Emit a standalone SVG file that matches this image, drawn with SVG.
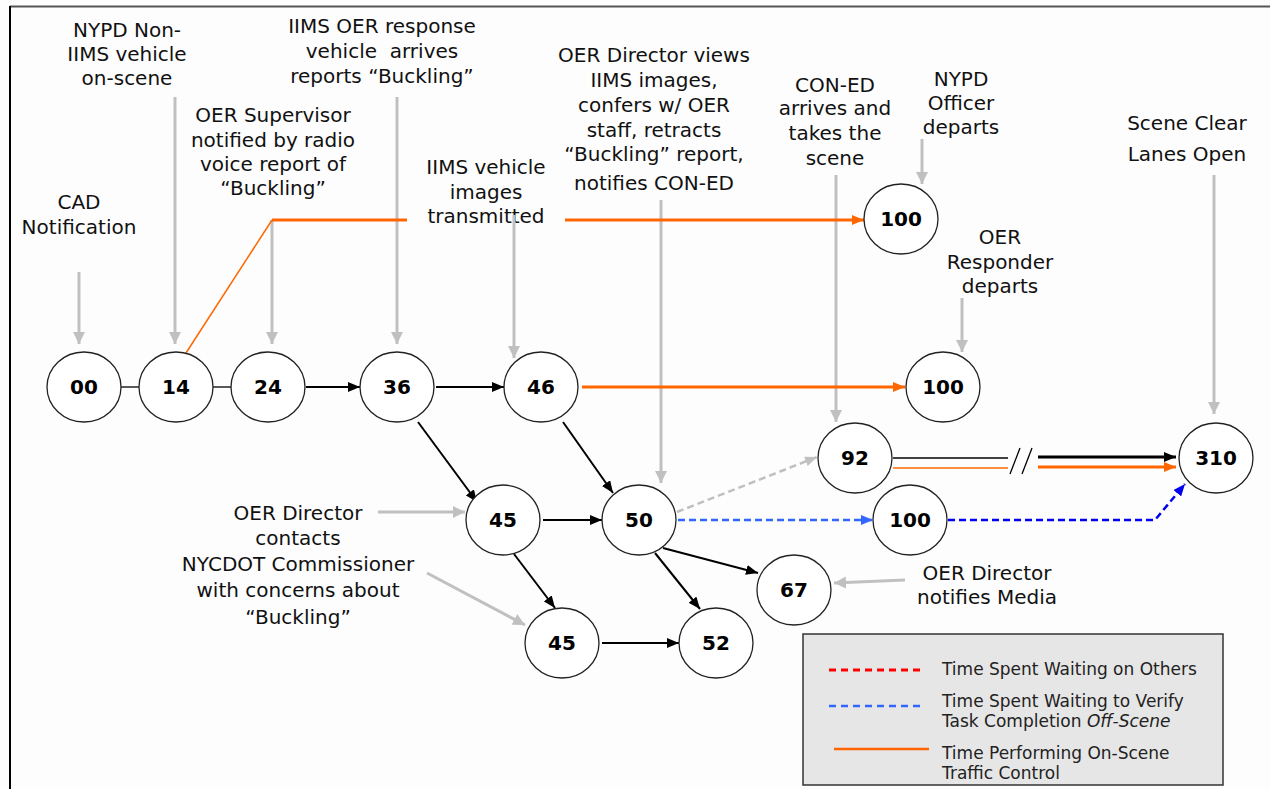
<svg xmlns="http://www.w3.org/2000/svg" width="1270" height="789" viewBox="0 0 1270 789">
<style>
.lbl{font-family:"DejaVu Sans",Verdana,sans-serif;font-size:20px;fill:#111;text-anchor:middle}
.num{font-family:"DejaVu Sans",Verdana,sans-serif;font-size:20px;font-weight:bold;fill:#000;text-anchor:middle}
.leg{font-family:"DejaVu Sans",Verdana,sans-serif;font-size:17px;fill:#222}
.node{fill:#fff;stroke:#222;stroke-width:1.3}
.ga{stroke:#c0c0c0;stroke-width:3;fill:none;marker-end:url(#mg)}
.bk{stroke:#000;stroke-width:2;fill:none;marker-end:url(#mb)}
.or{stroke:#ff6600;stroke-width:3;fill:none}
</style>
<defs>
<marker id="mg" markerUnits="userSpaceOnUse" viewBox="0 0 12 12" refX="12" refY="6" markerWidth="12" markerHeight="12" orient="auto"><path d="M0,0 L12,6 L0,12 Z" fill="#c0c0c0"/></marker>
<marker id="mb" markerUnits="userSpaceOnUse" viewBox="0 0 12 10" refX="12" refY="5" markerWidth="12" markerHeight="10" orient="auto"><path d="M0,0 L12,5 L0,10 Z" fill="#000"/></marker>
<marker id="mo" markerUnits="userSpaceOnUse" viewBox="0 0 12 10" refX="12" refY="5" markerWidth="12" markerHeight="10" orient="auto"><path d="M0,0 L12,5 L0,10 Z" fill="#ff6600"/></marker>
<marker id="mbl" markerUnits="userSpaceOnUse" viewBox="0 0 12 10" refX="12" refY="5" markerWidth="12" markerHeight="10" orient="auto"><path d="M0,0 L12,5 L0,10 Z" fill="#3366ff"/></marker>
<marker id="mdb" markerUnits="userSpaceOnUse" viewBox="0 0 12 10" refX="12" refY="5" markerWidth="12" markerHeight="10" orient="auto"><path d="M0,0 L12,5 L0,10 Z" fill="#0000ee"/></marker>
<marker id="mgd" markerUnits="userSpaceOnUse" viewBox="0 0 12 10" refX="12" refY="5" markerWidth="12" markerHeight="10" orient="auto"><path d="M0,0 L12,5 L0,10 Z" fill="#c0c0c0"/></marker>
</defs>
<rect x="0" y="0" width="1270" height="789" fill="#fdfdfd"/>
<line x1="10" y1="6.5" x2="1270" y2="6.5" stroke="#555" stroke-width="2"/>
<line x1="10" y1="6" x2="10" y2="789" stroke="#000" stroke-width="2"/>

<g id="annotations">
<text class="lbl" x="79" y="209">CAD</text>
<text class="lbl" x="79" y="234">Notification</text>
<text class="lbl" x="127" y="37">NYPD Non-</text>
<text class="lbl" x="127" y="61">IIMS vehicle</text>
<text class="lbl" x="127" y="85">on-scene</text>
<text class="lbl" x="273" y="122">OER Supervisor</text>
<text class="lbl" x="273" y="147">notified by radio</text>
<text class="lbl" x="273" y="171">voice report of</text>
<text class="lbl" x="273" y="195">“Buckling”</text>
<text class="lbl" x="382" y="33">IIMS OER response</text>
<text class="lbl" x="382" y="58" xml:space="preserve">vehicle  arrives</text>
<text class="lbl" x="382" y="83">reports “Buckling”</text>
<text class="lbl" x="486" y="174">IIMS vehicle</text>
<text class="lbl" x="486" y="199">images</text>
<text class="lbl" x="486" y="223">transmitted</text>
<text class="lbl" x="654" y="62">OER Director views</text>
<text class="lbl" x="654" y="87">IIMS images,</text>
<text class="lbl" x="654" y="112">confers w/ OER</text>
<text class="lbl" x="654" y="137">staff, retracts</text>
<text class="lbl" x="654" y="161">“Buckling” report,</text>
<text class="lbl" x="654" y="190">notifies CON-ED</text>
<text class="lbl" x="835" y="92">CON-ED</text>
<text class="lbl" x="835" y="115">arrives and</text>
<text class="lbl" x="835" y="140">takes the</text>
<text class="lbl" x="835" y="165">scene</text>
<text class="lbl" x="961" y="86">NYPD</text>
<text class="lbl" x="961" y="110">Officer</text>
<text class="lbl" x="961" y="134">departs</text>
<text class="lbl" x="1000" y="244">OER</text>
<text class="lbl" x="1000" y="269">Responder</text>
<text class="lbl" x="1000" y="293">departs</text>
<text class="lbl" x="1187" y="130">Scene Clear</text>
<text class="lbl" x="1187" y="161">Lanes Open</text>
<text class="lbl" x="298" y="520">OER Director</text>
<text class="lbl" x="298" y="545">contacts</text>
<text class="lbl" x="298" y="571">NYCDOT Commissioner</text>
<text class="lbl" x="298" y="597">with concerns about</text>
<text class="lbl" x="298" y="624">“Buckling”</text>
<text class="lbl" x="987" y="580">OER Director</text>
<text class="lbl" x="987" y="604">notifies Media</text>
</g>

<g id="connectors">
<line class="ga" x1="79" y1="272" x2="79" y2="344"/>
<line class="ga" x1="175" y1="97" x2="175" y2="344"/>
<line class="ga" x1="272" y1="220" x2="272" y2="344"/>
<line class="ga" x1="397" y1="97" x2="397" y2="344"/>
<line class="ga" x1="514" y1="215" x2="514" y2="358"/>
<line class="ga" x1="661" y1="200" x2="661" y2="483"/>
<line class="ga" x1="836" y1="175" x2="836" y2="422"/>
<line class="ga" x1="922" y1="139" x2="922" y2="184"/>
<line class="ga" x1="962" y1="298" x2="962" y2="352"/>
<line class="ga" x1="1214" y1="175" x2="1214" y2="414"/>
<line class="ga" x1="378" y1="512" x2="465" y2="512"/>
<line class="ga" x1="427" y1="573" x2="525" y2="625"/>
<line class="ga" x1="905" y1="580" x2="834" y2="583"/>

<line x1="272" y1="220" x2="186" y2="353" stroke="#ff6600" stroke-width="1.5"/>
<line class="or" x1="272" y1="220" x2="407" y2="220"/>
<line class="or" x1="565" y1="220" x2="864" y2="220" marker-end="url(#mo)"/>
<line class="or" x1="582" y1="387" x2="905" y2="387" marker-end="url(#mo)"/>

<line x1="121" y1="387" x2="139" y2="387" stroke="#222" stroke-width="1.5"/>
<line x1="213" y1="387" x2="232" y2="387" stroke="#222" stroke-width="1.5"/>
<line class="bk" x1="306" y1="387" x2="360" y2="387"/>
<line class="bk" x1="436" y1="387" x2="504" y2="387"/>
<line class="bk" x1="418" y1="422" x2="477" y2="502"/>
<line class="bk" x1="563" y1="422" x2="613" y2="493"/>
<line class="bk" x1="543" y1="520" x2="602" y2="520"/>
<line class="bk" x1="514" y1="554" x2="555" y2="608"/>
<line class="bk" x1="655" y1="553" x2="700" y2="609"/>
<line class="bk" x1="663" y1="548" x2="758" y2="573"/>
<line class="bk" x1="602" y1="643" x2="679" y2="643"/>

<line x1="677" y1="512" x2="817" y2="457" stroke="#c0c0c0" stroke-width="2.5" stroke-dasharray="7,4" marker-end="url(#mgd)"/>
<line x1="678" y1="520" x2="873" y2="520" stroke="#3366ff" stroke-width="2.5" stroke-dasharray="7,4" marker-end="url(#mbl)"/>
<polyline points="948,520 1155,520 1185,484" fill="none" stroke="#0000ee" stroke-width="2.5" stroke-dasharray="7,4" marker-end="url(#mdb)"/>

<line x1="893" y1="458" x2="1008" y2="458" stroke="#000" stroke-width="1.3"/>
<line x1="893" y1="468" x2="1008" y2="468" stroke="#ff6600" stroke-width="1.3"/>
<line x1="1010" y1="474" x2="1020" y2="448" stroke="#000" stroke-width="1.3"/>
<line x1="1022" y1="474" x2="1032" y2="448" stroke="#000" stroke-width="1.3"/>
<line x1="1038" y1="457" x2="1176" y2="457" stroke="#000" stroke-width="3" marker-end="url(#mb)"/>
<line x1="1038" y1="467" x2="1176" y2="467" stroke="#ff6600" stroke-width="3" marker-end="url(#mo)"/>
</g>

<g id="n00"><ellipse class="node" cx="84" cy="387" rx="37" ry="35"/><text class="num" x="84" y="394">00</text></g>
<g id="n14"><ellipse class="node" cx="176" cy="387" rx="37" ry="35"/><text class="num" x="176" y="394">14</text></g>
<g id="n24"><ellipse class="node" cx="268" cy="387" rx="37" ry="35"/><text class="num" x="268" y="394">24</text></g>
<g id="n36"><ellipse class="node" cx="397" cy="387" rx="37" ry="35"/><text class="num" x="397" y="394">36</text></g>
<g id="n46"><ellipse class="node" cx="541" cy="387" rx="37" ry="35"/><text class="num" x="541" y="394">46</text></g>
<g id="n45a"><ellipse class="node" cx="503" cy="520" rx="37" ry="35"/><text class="num" x="503" y="527">45</text></g>
<g id="n50"><ellipse class="node" cx="639" cy="520" rx="37" ry="35"/><text class="num" x="639" y="527">50</text></g>
<g id="n67"><ellipse class="node" cx="794" cy="590" rx="37" ry="35"/><text class="num" x="794" y="597">67</text></g>
<g id="n45b"><ellipse class="node" cx="562" cy="643" rx="37" ry="35"/><text class="num" x="562" y="650">45</text></g>
<g id="n52"><ellipse class="node" cx="716" cy="643" rx="37" ry="35"/><text class="num" x="716" y="650">52</text></g>
<g id="n92"><ellipse class="node" cx="855" cy="458" rx="37" ry="35"/><text class="num" x="855" y="465">92</text></g>
<g id="n310"><ellipse class="node" cx="1216" cy="458" rx="37" ry="35"/><text class="num" x="1216" y="465">310</text></g>
<g id="n100a"><ellipse class="node" cx="901" cy="219" rx="37" ry="35"/><text class="num" x="901" y="226">100</text></g>
<g id="n100b"><ellipse class="node" cx="943" cy="387" rx="37" ry="35"/><text class="num" x="943" y="394">100</text></g>
<g id="n100c"><ellipse class="node" cx="910" cy="520" rx="37" ry="35"/><text class="num" x="910" y="527">100</text></g>

<g id="legend">
<rect x="803" y="634" width="420" height="151" fill="#e6e6e6" stroke="#333" stroke-width="1.5"/>
<line x1="829" y1="670" x2="923" y2="670" stroke="#ff0000" stroke-width="3" stroke-dasharray="7,5"/>
<line x1="829" y1="706" x2="923" y2="706" stroke="#3366ff" stroke-width="2.5" stroke-dasharray="7,5"/>
<line x1="834" y1="749" x2="929" y2="749" stroke="#ff6600" stroke-width="2.5"/>
<text class="leg" x="942" y="675">Time Spent Waiting on Others</text>
<text class="leg" x="942" y="707">Time Spent Waiting to Verify</text>
<text class="leg" x="942" y="727">Task Completion <tspan font-style="italic">Off-Scene</tspan></text>
<text class="leg" x="942" y="759">Time Performing On-Scene</text>
<text class="leg" x="942" y="779">Traffic Control</text>
</g>
</svg>
